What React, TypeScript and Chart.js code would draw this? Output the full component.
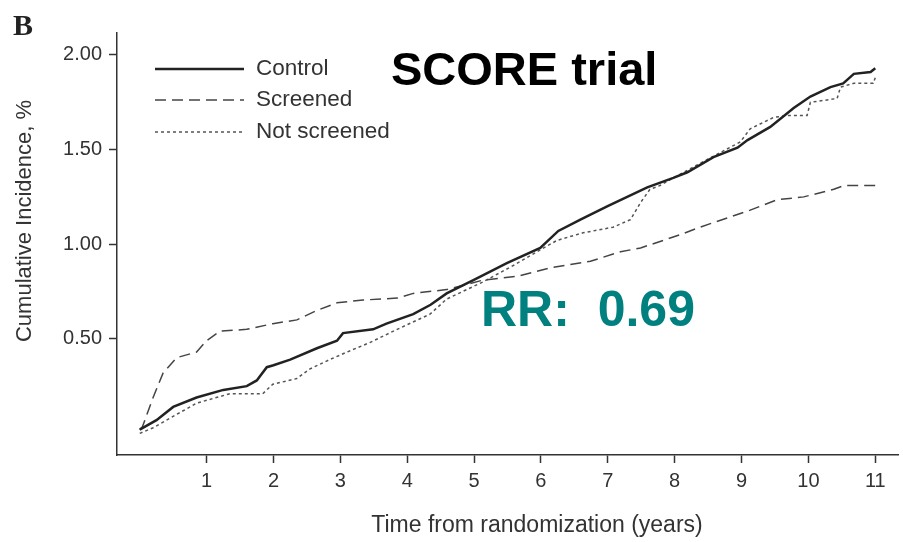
import React, { useEffect, useRef } from "react";
import { Chart, registerables } from "chart.js";

Chart.register(...registerables);

const controlX = [0, 0.25, 0.5, 0.85, 1.25, 1.6, 1.75, 1.9, 2.0, 2.25, 2.65, 2.95, 3.04, 3.49, 3.69, 4.09, 4.35, 4.59, 4.99, 5.49, 5.99, 6.26, 6.59, 6.99, 7.29, 7.59, 7.98, 8.19, 8.58, 8.94, 9.09, 9.43, 9.78, 10.03, 10.33, 10.52, 10.68, 10.93, 11.0];
const controlY = [0.02, 0.07, 0.14, 0.19, 0.23, 0.25, 0.28, 0.35, 0.36, 0.39, 0.45, 0.49, 0.53, 0.55, 0.58, 0.63, 0.68, 0.74, 0.81, 0.9, 0.98, 1.07, 1.13, 1.2, 1.25, 1.3, 1.35, 1.38, 1.46, 1.51, 1.55, 1.62, 1.72, 1.78, 1.83, 1.85, 1.9, 1.91, 1.93];

const screenedX = [0, 0.04, 0.2, 0.35, 0.55, 0.85, 1.0, 1.2, 1.6, 1.99, 2.35, 2.65, 2.95, 3.34, 3.85, 4.09, 4.59, 5.13, 5.64, 6.14, 6.74, 7.19, 7.49, 8.08, 8.38, 9.13, 9.53, 9.93, 10.38, 10.53, 11.0];
const screenedY = [0.02, 0.035, 0.19, 0.32, 0.4, 0.43, 0.49, 0.54, 0.55, 0.58, 0.6, 0.65, 0.69, 0.705, 0.715, 0.74, 0.76, 0.81, 0.83, 0.875, 0.91, 0.96, 0.98, 1.05, 1.09, 1.18, 1.235, 1.25, 1.29, 1.31, 1.31];

const notScreenedX = [0, 0.2, 0.6, 0.85, 1.35, 1.84, 1.99, 2.35, 2.54, 2.84, 3.1, 3.44, 3.85, 4.34, 4.59, 5.13, 5.6, 6.09, 6.24, 6.63, 7.08, 7.34, 7.49, 7.63, 7.78, 7.98, 8.5, 8.98, 9.13, 9.48, 9.68, 9.98, 10.03, 10.43, 10.48, 10.68, 10.97, 11.0];
const notScreenedY = [0.0, 0.03, 0.11, 0.16, 0.21, 0.21, 0.26, 0.29, 0.34, 0.39, 0.43, 0.48, 0.55, 0.63, 0.71, 0.8, 0.89, 0.99, 1.02, 1.06, 1.09, 1.13, 1.22, 1.29, 1.31, 1.35, 1.45, 1.54, 1.61, 1.67, 1.68, 1.68, 1.75, 1.77, 1.83, 1.85, 1.85, 1.88];

const xTicks = [1, 2, 3, 4, 5, 6, 7, 8, 9, 10, 11];
const yTicks = [0.5, 1.0, 1.5, 2.0];

const seriesNames = ["Control", "Screened", "Not screened"];
const chartTitle = "SCORE trial";
const rrLabel = "RR:  0.69";
const panelLabel = "B";
const xTitle = "Time from randomization (years)";
const yTitle = "Cumulative Incidence, %";

const toPoints = (xs: number[], ys: number[]) => xs.map((x, i) => ({ x, y: ys[i] }));

const FONT = "'Liberation Sans', Arial, sans-serif";

const styles = [
  { color: "#222222", width: 2.5, dash: [] as number[] },
  { color: "#444444", width: 1.5, dash: [11, 6] },
  { color: "#555555", width: 1.5, dash: [3, 3] },
];

const overlayPlugin = {
  id: "overlay",
  afterDraw(chart: any) {
    const ctx = chart.ctx as CanvasRenderingContext2D;
    ctx.save();
    ctx.fillStyle = "#222";
    ctx.font = "bold 30px 'Liberation Serif', 'Times New Roman', serif";
    ctx.textBaseline = "alphabetic";
    ctx.textAlign = "left";
    ctx.fillText(panelLabel, 13, 35);

    ctx.fillStyle = "#000";
    ctx.font = `bold 47px ${FONT}`;
    ctx.fillText(chartTitle, 391, 85);

    ctx.fillStyle = "#00807f";
    ctx.font = `bold 50px ${FONT}`;
    ctx.fillText(rrLabel, 481, 326);

    const rows = [69, 100, 132];
    seriesNames.forEach((name, i) => {
      const s = styles[i];
      ctx.beginPath();
      ctx.strokeStyle = s.color;
      ctx.lineWidth = s.width;
      ctx.setLineDash(s.dash);
      ctx.moveTo(155, rows[i]);
      ctx.lineTo(244, rows[i]);
      ctx.stroke();
      ctx.setLineDash([]);
      ctx.fillStyle = "#333";
      ctx.font = `22.5px ${FONT}`;
      ctx.textBaseline = "middle";
      ctx.fillText(name, 256, rows[i]);
    });

    ctx.fillStyle = "#333";
    ctx.font = `23px ${FONT}`;
    ctx.textAlign = "center";
    ctx.textBaseline = "alphabetic";
    ctx.fillText(xTitle, 537, 532);

    ctx.translate(25, 221);
    ctx.rotate(-Math.PI / 2);
    ctx.font = `22px ${FONT}`;
    ctx.textBaseline = "middle";
    ctx.fillText(yTitle, 0, 0);
    ctx.restore();
  },
};

export default function App() {
  const ref = useRef<HTMLCanvasElement>(null);

  useEffect(() => {
    if (!ref.current) return;
    const datasets = [
      toPoints(controlX, controlY),
      toPoints(screenedX, screenedY),
      toPoints(notScreenedX, notScreenedY),
    ].map((data, i) => ({
      label: seriesNames[i],
      data,
      borderColor: styles[i].color,
      borderWidth: styles[i].width,
      borderDash: styles[i].dash,
      pointRadius: 0,
      tension: 0,
      fill: false,
    }));

    const chart = new Chart(ref.current, {
      type: "line",
      data: { datasets },
      options: {
        animation: false,
        responsive: false,
        devicePixelRatio: 1,
        layout: { padding: { top: 33, right: 5, left: 0, bottom: 0 } },
        plugins: { legend: { display: false }, tooltip: { enabled: false } },
        scales: {
          x: {
            type: "linear",
            min: -0.34,
            max: 11.34,
            afterFit: (s: any) => {
              s.height = 87;
            },
            afterBuildTicks: (s: any) => {
              s.ticks = xTicks.map((v) => ({ value: v }));
            },
            grid: { drawOnChartArea: false, drawTicks: true, tickLength: 8, tickColor: "#333", tickWidth: 1.5 },
            border: { display: true, color: "#333", width: 1.5 },
            ticks: {
              color: "#333",
              padding: 6,
              maxRotation: 0,
              font: { family: FONT, size: 20 },
              callback: (v: any) => String(v),
            },
          },
          y: {
            type: "linear",
            min: -0.114,
            max: 2.116,
            afterFit: (s: any) => {
              s.width = 117;
            },
            afterBuildTicks: (s: any) => {
              s.ticks = yTicks.map((v) => ({ value: v }));
            },
            grid: { drawOnChartArea: false, drawTicks: true, tickLength: 8, tickColor: "#333", tickWidth: 1.5 },
            border: { display: true, color: "#333", width: 1.5 },
            ticks: {
              color: "#333",
              padding: 7,
              font: { family: FONT, size: 20 },
              callback: (v: any) => Number(v).toFixed(2),
            },
          },
        },
      },
      plugins: [overlayPlugin],
    });
    return () => chart.destroy();
  }, []);

  return (
    <div style={{ position: "absolute", left: 0, top: 0, width: 903, height: 542, background: "#fff" }}>
      <canvas ref={ref} width={903} height={542} style={{ width: 903, height: 542, display: "block" }} />
    </div>
  );
}
